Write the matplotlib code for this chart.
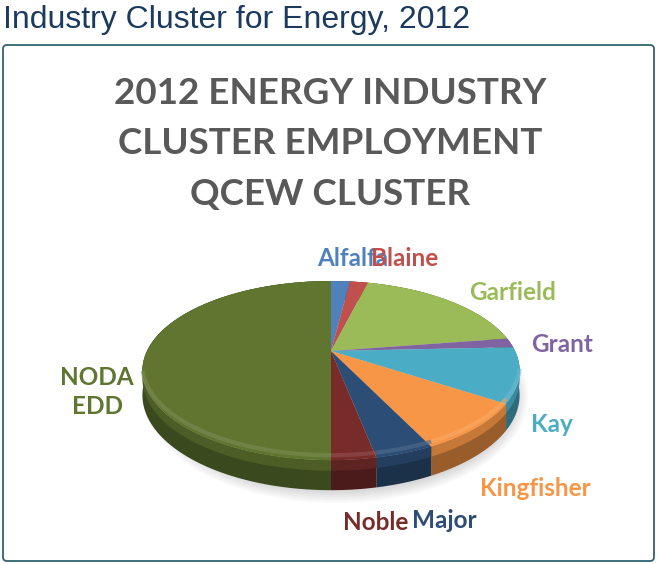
import numpy as np
import matplotlib
matplotlib.use("Agg")
import matplotlib.pyplot as plt
from matplotlib.patches import Polygon, FancyBboxPatch, Ellipse
from matplotlib.colors import to_rgb

# slice data, clockwise from 12 o'clock (share of cluster employment, %)
counties = ["Alfalfa", "Blaine", "Garfield", "Grant", "Kay",
            "Kingfisher", "Major", "Noble", "NODA\nEDD"]
shares = [2.0, 1.9, 18.7, 1.7, 9.9, 8.6, 4.1, 3.1, 50.0]
colors = ["#4F81BD", "#C0504D", "#9BBB59", "#8064A2", "#4BACC6",
          "#F79646", "#2C4D75", "#772C2A", "#5F7530"]

# label placement (pixel centres) -- layout only
label_xy = [(353, 258), (405, 258), (513, 292), (562, 345), (552, 425),
            (535, 489), (444, 520), (376, 523), (97, 392)]

W, H = 658, 564
CX, CY = 331, 351          # apex of pie in pixels
A, B, K, T = 184, 85.3, 0.219, 23.4   # perspective projection params

fig = plt.figure(figsize=(W / 100, H / 100), dpi=100)
ax = fig.add_axes([0, 0, 1, 1])
ax.set_xlim(0, W); ax.set_ylim(H, 0); ax.axis("off")


def proj(th, drop=0.0):
    X, Y = np.sin(th), np.cos(th)
    d = 1 + K * Y
    return CX + A * X / d, CY - B * Y / d + drop * T / d


def shade(c, f):
    r, g, b = to_rgb(c)
    return (r * f, g * f, b * f)


def tint(c, f):
    return tuple(v + (1 - v) * f for v in to_rgb(c))


# header + frame
fig.text(3 / W, 1 - 20 / H, "Industry Cluster for Energy, 2012", family="Liberation Sans",
         fontsize=23, color="#1B3A5E", va="center", ha="left")
ax.add_patch(FancyBboxPatch((3, 45), 651, 516, boxstyle="round,pad=0,rounding_size=4",
                            fc="white", ec="#2E6470", lw=1.3))

for i, line in enumerate(["2012 ENERGY INDUSTRY", "CLUSTER EMPLOYMENT", "QCEW CLUSTER"]):
    ax.text(330, 93 + 51 * i, line, family="Lato", weight="bold", fontsize=26.5,
            color="#595959", ha="center", va="center")

# soft shadow under the pie
for j in range(8):
    ax.add_patch(Ellipse((336, 397), 2 * A + 16 - 4 * j, 212 - 4 * j,
                         fc="#000000", alpha=0.025, ec="none"))

ang = np.cumsum([0] + shares) / sum(shares) * 2 * np.pi

# sides
for i in range(len(shares)):
    th = np.linspace(ang[i], ang[i + 1], 120)
    tx, ty = proj(th)
    bx, by = proj(th[::-1], 1.0)
    ax.add_patch(Polygon(np.c_[np.r_[tx, bx], np.r_[ty, by]], closed=True,
                         fc=shade(colors[i], 0.62), ec="none"))
    mx, my = proj(th, 0.35)
    ax.add_patch(Polygon(np.c_[np.r_[tx, mx[::-1]], np.r_[ty, my[::-1]]], closed=True,
                         fc=shade(colors[i], 0.8), ec="none"))

# top faces
for i in range(len(shares)):
    th = np.linspace(ang[i], ang[i + 1], 120)
    tx, ty = proj(th)
    ax.add_patch(Polygon(np.c_[np.r_[CX, tx], np.r_[CY, ty]], closed=True,
                         fc=colors[i], ec="none"))
    front = np.cos(th) < -0.25
    if front.sum() > 1:
        ax.plot(tx[front], ty[front] - 5, color=tint(colors[i], 0.18),
                lw=3, alpha=0.6, solid_capstyle="butt")

# labels
for name, (x, y), c in zip(counties, label_xy, colors):
    ax.text(x, y, name, family="Lato", weight="bold", fontsize=17.5, color=c,
            ha="center", va="center", linespacing=1.35)

fig.savefig("out.png", dpi=100)
